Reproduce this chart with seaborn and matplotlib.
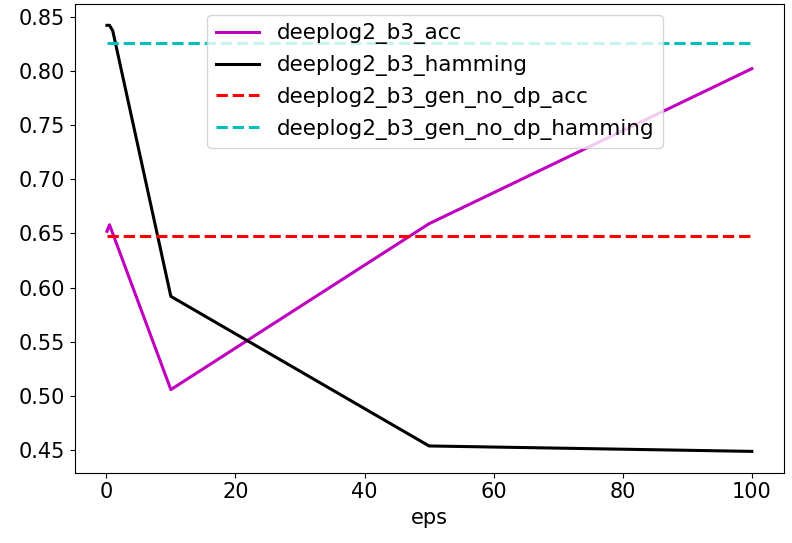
import pandas as pd
import seaborn as sns
import matplotlib
matplotlib.use("Agg")
import matplotlib.pyplot as plt

eps = [0.1, 0.5, 1, 10, 50, 100]
b3_acc = [0.652, 0.658, 0.650, 0.506, 0.659, 0.802]
b3_hamming = [0.842, 0.842, 0.837, 0.592, 0.454, 0.449]
gen_no_dp_acc = 0.648
gen_no_dp_hamming = 0.826

df = pd.DataFrame({
    'eps': eps,
    'deeplog2_b3_acc': b3_acc,
    'deeplog2_b3_hamming': b3_hamming,
    'deeplog2_b3_gen_no_dp_acc': [gen_no_dp_acc] * len(eps),
    'deeplog2_b3_gen_no_dp_hamming': [gen_no_dp_hamming] * len(eps),
})

plt.rcParams['font.size'] = 15
fig = plt.figure(figsize=(7.92, 5.43), dpi=100)
ax = fig.add_axes([0.0943, 0.1295, 0.8957, 0.8631])

styles = {
    'deeplog2_b3_acc': ('m', '-'),
    'deeplog2_b3_hamming': ('k', '-'),
    'deeplog2_b3_gen_no_dp_acc': ('r', '--'),
    'deeplog2_b3_gen_no_dp_hamming': ('c', '--'),
}
for name, (col, ls) in styles.items():
    sns.lineplot(data=df, x='eps', y=name, color=col, linestyle=ls, linewidth=2.2, label=name, ax=ax)

ax.set_ylabel('')
ax.set_xlabel('eps')
ax.set_yticks([0.45, 0.50, 0.55, 0.60, 0.65, 0.70, 0.75, 0.80, 0.85])
ax.legend(loc='upper center', bbox_to_anchor=(0.508, 1.0), fontsize=15.5)

plt.savefig('out.png', dpi=100)
